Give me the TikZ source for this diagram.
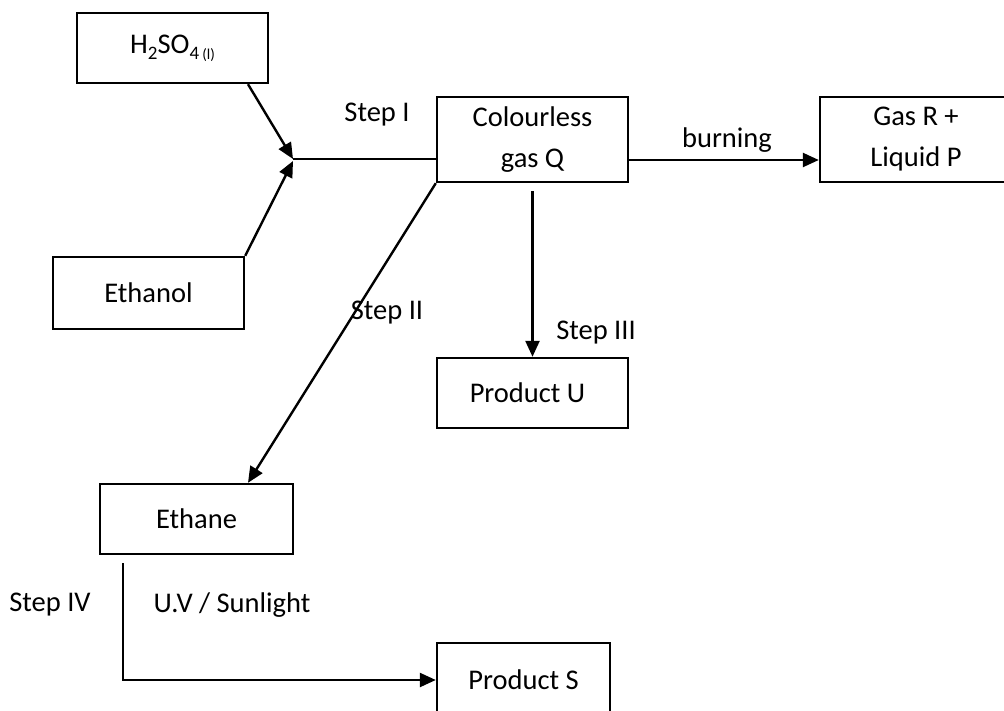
\documentclass[tikz,border=0pt]{standalone}
\usepackage{fontspec}
\setmainfont{Carlito}
\usetikzlibrary{arrows.meta}
\tikzset{
  box/.style={draw, line width=2.4pt, inner sep=0pt, align=center},
  lbl/.style={inner sep=0pt},
  arr/.style={line width=2.4pt, -{Triangle[length=16pt,width=14pt]}},
  ln/.style={line width=2.4pt},
}
\begin{document}
\begin{tikzpicture}[x=1pt,y=-1pt,font=\fontsize{28.5}{41}\selectfont]
\clip (0,0) rectangle (1004,711);
\fill[white] (0,0) rectangle (1004,711);
% boxes
\node[box, minimum width=191, minimum height=70] (H) at (172.5,48)
  {H\raisebox{-0.22em}{\fontsize{19}{19}\selectfont 2}SO\raisebox{-0.22em}{\fontsize{19}{19}\selectfont 4\,\fontsize{15}{15}\selectfont(l)}};
\node[box, minimum width=191, minimum height=72] (A) at (148.5,293) {Ethanol};
\node[box, minimum width=191, minimum height=85] (Q) at (532.5,139.5) {Colourless\\gas Q};
\node[box, minimum width=192, minimum height=85] (R) at (916,139.5) {Gas R +\\Liquid P};
\node[box, minimum width=191, minimum height=70] (U) at (532.5,393) {\hspace*{-10pt}Product U};
\node[box, minimum width=193, minimum height=70] (E) at (196.5,519) {Ethane};
\node[box, minimum width=173, minimum height=84] (S) at (523.5,685) {\raisebox{10pt}{Product S}};
% junction
\coordinate (J) at (293,159);
% connectors
\draw[arr] ([xshift=75.5pt]H.south) -- (J);
\draw[arr] (A.north east) -- ([yshift=-2pt]J);
\draw[ln] (J) -- (J -| Q.west);
\draw[arr] ([yshift=-20.5pt]Q.east) -- ([yshift=-20.5pt]Q.east -| R.west);
\draw[arr] ([yshift=-8pt]Q.south) -- (U.north);
\draw[arr] (Q.south west) -- ([xshift=51.5pt]E.north);
\draw[arr] ([xshift=24pt,yshift=-8pt]E.south west) |- ([yshift=5pt]S.west);
% labels
\node[lbl] (l1) at (377,115) {Step I};
\node[lbl] (l2) at (727,140) {burning};
\node[lbl] (l3) at (387,313) {Step II};
\node[lbl] (l4) at (596,333) {Step III};
\node[lbl] (l5) at (50,605) {Step IV};
\node[lbl] (l6) at (232,605) {U.V / Sunlight};
\end{tikzpicture}
\end{document}
